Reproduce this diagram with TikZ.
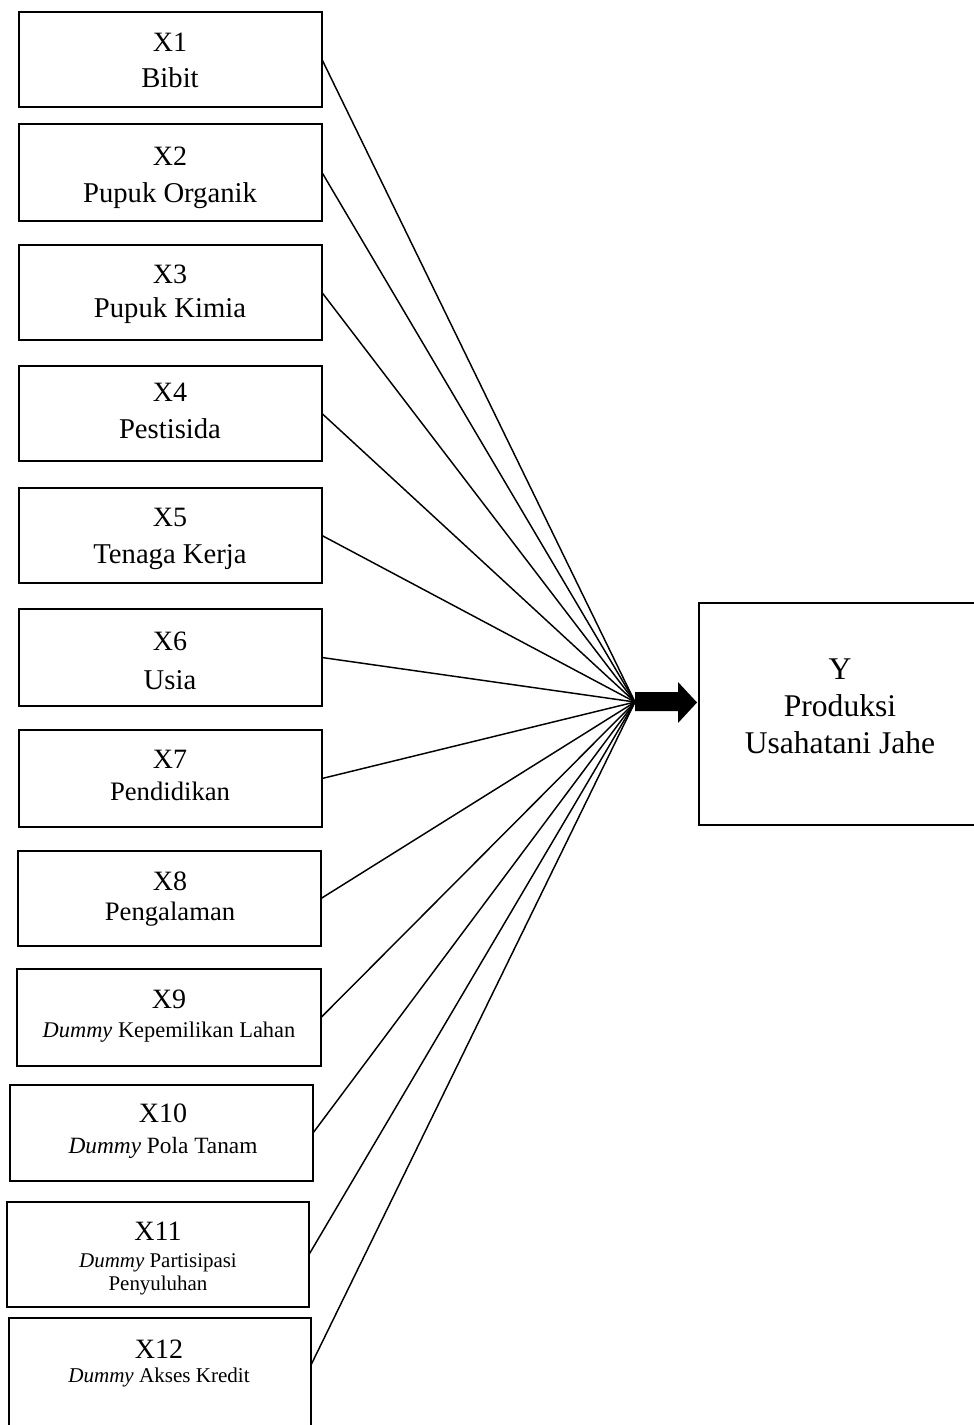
\documentclass[tikz,border=0pt]{standalone}
\usepackage{fontspec}
\setmainfont{Liberation Serif}
\usetikzlibrary{fit}
\begin{document}
\begin{tikzpicture}[x=0.75pt,y=-0.75pt,
  box/.style={draw, line width=1.4pt, inner sep=0pt, outer sep=0pt},
  conn/.style={draw, line width=1.1pt},
  txt/.style={anchor=base, inner sep=0pt, font=\fontsize{#1pt}{#1pt}\selectfont}]
\useasboundingbox (0,0) rectangle (974,1425);
\clip (0,0) rectangle (974,1425);

% boxes
\node[box, fit={(19,12) (322,107)}] (x1) {};
\node[box, fit={(19,124) (322,221)}] (x2) {};
\node[box, fit={(19,245) (322,340)}] (x3) {};
\node[box, fit={(19,366) (322,461)}] (x4) {};
\node[box, fit={(19,488) (322,583)}] (x5) {};
\node[box, fit={(19,609) (322,706)}] (x6) {};
\node[box, fit={(19,730) (322,827)}] (x7) {};
\node[box, fit={(18,851) (321,946)}] (x8) {};
\node[box, fit={(17,969) (321,1066)}] (x9) {};
\node[box, fit={(10,1085) (313,1181)}] (x10) {};
\node[box, fit={(7,1202) (309,1307)}] (x11) {};
\node[box, fit={(9,1318) (311,1440)}] (x12) {};
\node[box, fit={(699,603) (982,825)}] (y) {};

% texts
\node[txt=21] (x1a) at (170,51) {X1};
\node[txt=21.5] (x1b) at (170,87) {Bibit};
\node[txt=21] (x2a) at (170,165) {X2};
\node[txt=21.5] (x2b) at (170,202) {Pupuk Organik};
\node[txt=21] (x3a) at (170,283) {X3};
\node[txt=21.5] (x3b) at (170,317) {Pupuk Kimia};
\node[txt=21] (x4a) at (170,401) {X4};
\node[txt=21.5] (x4b) at (170,438) {Pestisida};
\node[txt=21] (x5a) at (170,526) {X5};
\node[txt=21.5] (x5b) at (170,563) {Tenaga Kerja};
\node[txt=21] (x6a) at (170,650) {X6};
\node[txt=21.5] (x6b) at (170,689) {Usia};
\node[txt=21] (x7a) at (170,768) {X7};
\node[txt=20] (x7b) at (170,800) {Pendidikan};
\node[txt=21] (x8a) at (170,890) {X8};
\node[txt=20] (x8b) at (170,920) {Pengalaman};
\node[txt=21] (x9a) at (169,1008) {X9};
\node[txt=16.8] (x9b) at (169,1037) {\textit{Dummy} Kepemilikan Lahan};
\node[txt=21] (x10a) at (163,1122) {X10};
\node[txt=17.5] (x10b) at (163,1153) {\textit{Dummy} Pola Tanam};
\node[txt=21] (x11a) at (158,1240) {X11};
\node[txt=15.7] (x11b) at (158,1267) {\textit{Dummy} Partisipasi};
\node[txt=15.7] (x11c) at (158,1290) {Penyuluhan};
\node[txt=21] (x12a) at (159,1358) {X12};
\node[txt=15.8] (x12b) at (159,1382) {\textit{Dummy} Akses Kredit};
\node[txt=23.7] (ya) at (840,679) {Y};
\node[txt=23.7] (yb) at (840,716) {Produksi};
\node[txt=23.7] (yc) at (840,753) {Usahatani Jahe};

% connectors
\coordinate (c) at (635,702);
\foreach \n in {x1,x2,x3,x4,x5,x6,x7,x8,x9,x10,x11}
  \draw[conn] (\n.east) -- (c);
\draw[conn] (x12.north east) ++(0,47) -- (c);

% block arrow
\fill (635,692) -- (678,692) -- (678,682) -- (697,702.5) -- (678,723) -- (678,711) -- (635,711) -- cycle;
\end{tikzpicture}
\end{document}
